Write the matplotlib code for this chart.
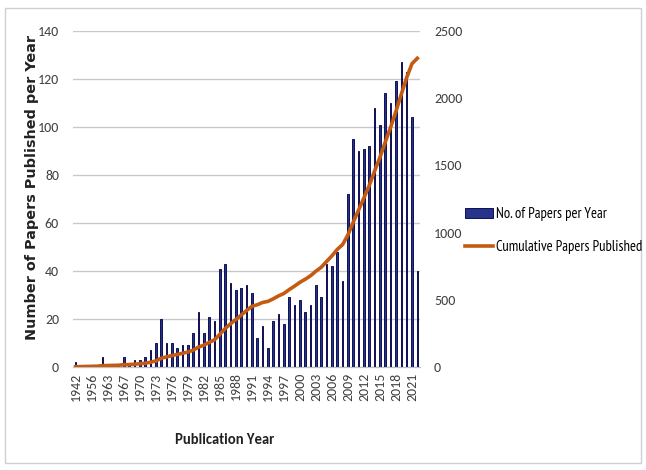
import matplotlib.pyplot as plt
from matplotlib.patches import Rectangle

# publication years (only years that appear in the data set)
years = [1942, 1948, 1953, 1956, 1958, 1961, 1963, 1964, 1965, 1967, 1968, 1969,
         1970, 1971, 1972, 1973, 1974, 1975, 1976, 1977, 1978, 1979, 1980, 1981,
         1982, 1983, 1984, 1985, 1986, 1987, 1988, 1989, 1990, 1991, 1992, 1993,
         1994, 1995, 1996, 1997, 1998, 1999, 2000, 2001, 2002, 2003, 2004, 2005,
         2006, 2007, 2008, 2009, 2010, 2011, 2012, 2013, 2014, 2015, 2016, 2017,
         2018, 2019, 2020, 2021, 2022]

# papers per year
papers = [2, 1, 1, 1, 1, 4, 1, 1, 1, 4, 1, 3,
          3, 4, 7, 10, 20, 10, 10, 8, 9, 9, 14, 23,
          14, 21, 19, 41, 43, 35, 32, 33, 34, 31, 12, 17,
          8, 19, 22, 18, 29, 26, 28, 23, 26, 34, 29, 43,
          42, 48, 36, 72, 95, 90, 91, 92, 108, 101, 114, 110,
          119, 127, 123, 104, 40]

# cumulative papers published
cumulative = [2, 3, 4, 5, 6, 10, 11, 12, 13, 17, 18, 21,
              24, 28, 35, 45, 65, 75, 85, 93, 102, 111, 125, 148,
              162, 183, 202, 243, 286, 321, 353, 386, 420, 451, 463, 480,
              488, 507, 529, 547, 576, 602, 630, 653, 679, 713, 742, 785,
              827, 875, 911, 983, 1078, 1168, 1259, 1351, 1459, 1560, 1674, 1784,
              1903, 2030, 2153, 2257, 2297]

calibri = ['Carlito', 'DejaVu Sans']
narrow = ['PT Sans Narrow', 'DejaVu Sans']
labels = [str(y) for y in years]
x = list(range(len(years)))

fig = plt.figure(figsize=(6.46, 4.70), dpi=100)
ax = fig.add_axes([73 / 646, 1 - 367 / 470, 347 / 646, 336 / 470])
ax2 = ax.twinx()

bars = ax.bar(x, papers, width=0.3, color='#25348a', edgecolor='#0f0f55',
              linewidth=0.7, label='No. of Papers per Year', zorder=3)
line, = ax2.plot(x, cumulative, color='#c55a11', lw=2.6,
                 label='Cumulative Papers Published', zorder=4)

ax.set_xlim(-0.5, len(years) - 0.5)
ax.set_ylim(0, 140)
ax.set_yticks(range(0, 141, 20))
ax2.set_ylim(0, 2500)
ax2.set_yticks(range(0, 2501, 500))

ax.grid(axis='y', color='#c8c8c8', lw=1, zorder=0)
ax.set_axisbelow(True)
ax.set_zorder(ax2.get_zorder() - 1)
ax.patch.set_visible(False)

ax.set_xticks(x[::3])
ax.set_xticklabels(labels[::3], rotation=90, family=calibri, fontsize=10)
for t in ax.get_yticklabels() + ax2.get_yticklabels():
    t.set_family(calibri)
    t.set_fontsize(10)
ax.tick_params(axis='both', length=0, colors='#404040')
ax.tick_params(axis='y', pad=10)
ax.tick_params(axis='x', pad=4)
ax2.tick_params(axis='y', length=0, pad=10, colors='#404040')

for a in (ax, ax2):
    for s in ('top', 'left', 'right'):
        a.spines[s].set_visible(False)
    a.spines['bottom'].set_color('#bfbfbf')

fig.text(32 / 646, 1 - 187 / 470, 'Number of Papers Published per Year',
         rotation=90, ha='center', va='center', fontsize=10.4,
         fontweight='bold', color='#222222')
fig.text(225 / 646, 1 - 440 / 470, 'Publication Year', ha='center',
         va='center', fontsize=10.5, fontweight='bold', family=calibri,
         color='#222222')

fig.legend(handles=[bars, line], loc='center left',
           bbox_to_anchor=(465 / 646, 1 - 230.5 / 470), frameon=False,
           borderaxespad=0, borderpad=0,
           handlelength=1.95, handleheight=0.6, handletextpad=0.2,
           labelspacing=1.3, prop={'family': narrow, 'size': 10.5})

fig.patches.append(Rectangle((5 / 646, 1 - 463 / 470), 636 / 646, 455 / 470,
                             transform=fig.transFigure, fill=False,
                             edgecolor='#d0d0d0', lw=1))

fig.savefig('out.png', dpi=100)
